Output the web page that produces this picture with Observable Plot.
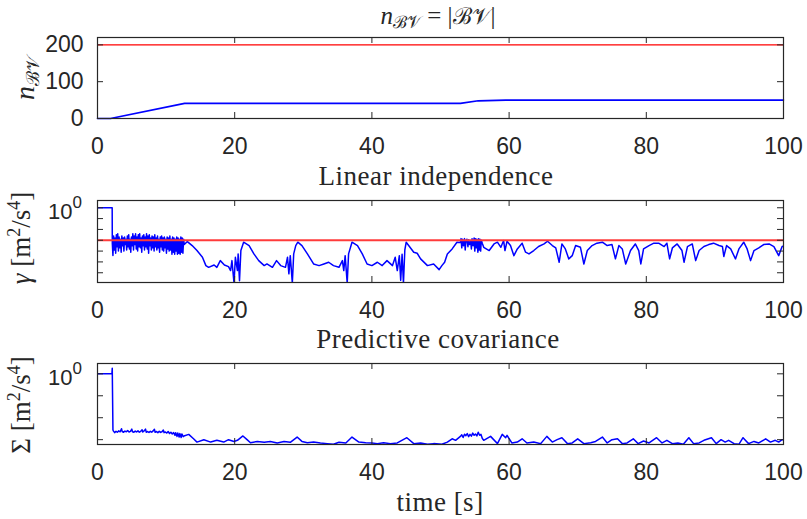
<!DOCTYPE html>
<html><head><meta charset="utf-8">
<script src="https://cdn.jsdelivr.net/npm/d3@7"></script>
<script src="https://cdn.jsdelivr.net/npm/@observablehq/plot@0.6"></script>
<style>
html,body{margin:0;padding:0;background:#fff;}
#chart{width:807px;height:519px;position:relative;overflow:hidden;background:#fff;}
#chart svg{display:block;}
</style></head><body><div id="chart"></div>
<script>
// ---------- data ----------
const xTicks = [0, 20, 40, 60, 80, 100];
const bvTicks = [0, 100, 200];
const gammaDecades = [0, -1, -2, -3, -4, -5, -6];
const sigmaDecades = [0, -1, -2, -3];
const bvCapacity = 200;
const gammaThresholdExp = -3;
const panelTitles = ["Linear independence", "Predictive covariance"];
const xLabel = "time [s]";

// dictionary size n_BV over time [t, n]
const bvSamples = [[0,0],[1.9,0],[12.7,41],[52.9,41],[55.5,48],[59.5,50],[100,50]];

// linear independence gamma: [t, log10(gamma)]
const gammaSamples = [
[0,0],[2.14,0],[2.16,-3.3],
[2.25,-4.4],[2.35,-2.6],[2.45,-3.9],[2.55,-2.8],[2.65,-4.2],[2.75,-2.5],[2.85,-3.6],[2.95,-2.4],[3.05,-4.0],[3.15,-2.7],
[3.25,-3.7],[3.35,-2.9],[3.45,-4.1],[3.55,-2.6],[3.65,-3.5],[3.75,-2.8],[3.85,-4.0],[3.95,-2.7],[4.05,-3.4],[4.15,-2.9],
[4.25,-3.9],[4.35,-2.6],[4.45,-3.6],[4.55,-2.5],[4.65,-3.8],[4.75,-2.9],[4.85,-4.1],[4.95,-2.7],[5.05,-3.5],[5.15,-2.4],
[5.25,-3.9],[5.35,-2.6],[5.45,-3.4],[5.55,-2.4],[5.65,-3.8],[5.75,-2.7],[5.85,-4.0],[5.95,-2.5],[6.05,-3.6],[6.15,-2.4],
[6.25,-3.7],[6.35,-2.8],[6.45,-4.1],[6.55,-2.6],[6.65,-3.5],[6.75,-2.5],[6.85,-3.9],[6.95,-2.7],[7.05,-3.6],[7.15,-2.4],
[7.25,-3.8],[7.35,-2.6],[7.45,-4.2],[7.55,-2.5],[7.65,-3.5],[7.75,-2.8],[7.85,-3.9],[7.95,-2.6],[8.05,-3.7],[8.15,-2.7],
[8.25,-4.0],[8.35,-2.5],[8.45,-3.6],[8.55,-2.8],[8.65,-3.9],[8.75,-2.6],[8.85,-3.7],[8.95,-2.9],[9.05,-4.1],[9.15,-2.7],
[9.25,-3.6],[9.35,-2.6],[9.45,-3.9],[9.55,-2.8],[9.65,-4.0],[9.75,-2.7],[9.85,-3.7],[9.95,-2.9],[10.05,-4.2],[10.15,-2.7],
[10.25,-3.8],[10.35,-2.8],[10.45,-4.0],[10.55,-2.6],[10.65,-3.9],[10.75,-2.9],[10.85,-4.3],[10.95,-2.7],[11.05,-4.1],[11.15,-2.8],
[11.25,-4.3],[11.35,-2.9],[11.45,-4.0],[11.55,-2.7],[11.65,-4.3],[11.75,-2.8],[11.85,-4.2],[11.95,-2.9],[12.05,-4.3],[12.15,-2.7],
[12.25,-4.1],[12.35,-2.8],[12.45,-4.2],[12.55,-2.9],[12.65,-3.4],
[13.1,-3.12],[13.8,-3.49],[14.5,-3.95],[15.3,-4.57],[15.8,-5.34],[16.2,-5.5],[17.0,-5.28],[17.4,-5.5],[17.9,-4.88],[18.5,-5.28],
[19.1,-5.43],[19.4,-5.8],[19.6,-4.88],[19.9,-6.95],[20.1,-4.57],[20.4,-5.8],[20.5,-4.26],[20.7,-6.73],[20.9,-3.95],[21.3,-3.18],
[22.1,-3.49],[22.8,-4.26],[23.5,-4.88],[24.3,-5.34],[24.7,-5.19],[25.5,-5.5],[26.1,-4.88],[26.7,-5.34],[27.4,-5.5],[27.7,-4.57],
[27.9,-6.1],[28.1,-4.42],[28.4,-6.95],[28.6,-4.26],[28.9,-3.49],[29.2,-3.18],[29.8,-3.49],[30.6,-4.26],[31.5,-5.19],[32.3,-5.34],
[33.0,-5.19],[33.7,-5.03],[34.4,-5.34],[35.2,-5.5],[35.7,-4.88],[35.9,-5.8],[36.1,-4.42],[36.4,-6.95],[36.6,-4.26],[37.1,-3.18],
[37.9,-3.49],[38.6,-4.26],[39.3,-5.19],[40.0,-5.34],[40.8,-5.03],[41.5,-5.34],[42.2,-4.88],[43.0,-5.34],[43.4,-4.57],[43.7,-5.8],
[44.0,-4.42],[44.2,-6.7],[44.4,-4.3],[44.6,-6.95],[44.8,-3.9],[45.0,-3.18],
[46.1,-4.11],[46.6,-4.2],[47.1,-4.72],[48.1,-5.34],[49.0,-5.19],[49.8,-5.71],[50.2,-5.34],[50.6,-5.03],[51.0,-4.26],[51.7,-3.8],[52.4,-3.18],
[52.9,-3.2],[53.0,-2.85],[53.1,-3.7],[53.2,-2.9],[53.35,-3.5],[53.5,-2.85],[53.6,-3.9],[53.7,-3.1],[53.85,-2.9],[54.0,-3.6],
[54.1,-2.95],[54.25,-3.4],[54.4,-3.1],[54.5,-3.8],[54.6,-2.85],[54.75,-3.5],[54.9,-2.8],[55.0,-4.0],[55.1,-2.85],[55.2,-3.7],
[55.3,-2.9],[55.45,-4.1],[55.55,-2.85],[55.65,-3.9],[55.75,-2.9],[55.85,-4.0],[55.95,-3.0],[56.1,-3.3],
[56.3,-3.65],[57.1,-3.95],[57.8,-3.34],[58.3,-3.18],[58.8,-3.65],[59.2,-3.03],[59.4,-3.95],[59.7,-3.09],[60.2,-3.49],[60.7,-4.42],
[61.2,-3.8],[61.9,-3.27],[62.4,-4.1],[62.9,-4.26],[63.6,-3.95],[64.3,-3.58],[65.1,-3.34],[65.6,-3.09],[66.3,-3.49],[66.8,-3.71],
[67.3,-5.03],[67.7,-3.34],[68.2,-3.8],[68.7,-4.72],[69.2,-4.42],[69.7,-3.49],[70.4,-3.65],[70.9,-5.19],[71.4,-3.95],[72.1,-3.49],
[72.8,-3.27],[73.6,-3.18],[74.3,-3.49],[75.0,-3.4],[75.5,-4.72],[76.0,-3.49],[76.5,-3.8],[77.0,-5.19],[77.7,-3.95],[78.4,-3.34],
[78.9,-3.95],[79.2,-5.19],[79.6,-3.8],[80.4,-3.49],[81.1,-3.27],[81.8,-3.27],[82.6,-3.58],[83.0,-3.27],[83.4,-4.72],[83.8,-3.71],
[84.5,-3.34],[85.2,-3.95],[85.5,-5.03],[86.0,-3.58],[86.7,-3.34],[87.2,-4.88],[87.7,-3.95],[88.4,-3.58],[89.1,-3.4],[89.8,-3.27],
[90.6,-3.49],[91.1,-3.58],[91.3,-4.5],[91.7,-3.49],[92.3,-3.8],[93.0,-4.72],[93.5,-3.8],[94.2,-3.18],[94.7,-3.8],[95.2,-4.88],
[95.7,-3.95],[96.4,-3.71],[97.1,-3.4],[97.9,-3.34],[98.6,-3.58],[99.3,-4.42],[99.8,-3.58],[100,-3.55]
];

// predictive covariance Sigma: [t, log10(Sigma)]
const sigmaSamples = [
[0,0],[2.1,0],[2.15,0.25],[2.25,-2.55],
[2.3,-2.6],[2.5,-2.68],[2.7,-2.62],[2.9,-2.66],[3.1,-2.6],[3.3,-2.64],[3.5,-2.5],[3.6,-2.63],[3.8,-2.66],[4.0,-2.61],
[4.2,-2.64],[4.4,-2.58],[4.6,-2.65],[4.8,-2.62],[5.0,-2.52],[5.1,-2.64],[5.3,-2.66],[5.5,-2.61],[5.7,-2.65],[5.9,-2.6],
[6.1,-2.66],[6.3,-2.62],[6.5,-2.55],[6.6,-2.65],[6.8,-2.6],[7.0,-2.52],[7.1,-2.66],[7.3,-2.63],[7.5,-2.67],[7.7,-2.62],
[7.9,-2.66],[8.1,-2.6],[8.3,-2.53],[8.4,-2.66],[8.6,-2.63],[8.8,-2.68],[9.0,-2.62],[9.2,-2.67],[9.4,-2.64],[9.6,-2.56],
[9.7,-2.68],[9.9,-2.65],[10.1,-2.7],[10.3,-2.63],[10.5,-2.72],[10.7,-2.66],[10.9,-2.74],[11.1,-2.68],[11.3,-2.8],[11.4,-2.68],
[11.6,-2.85],[11.7,-2.7],[11.9,-2.88],[12.0,-2.72],[12.2,-2.9],[12.3,-2.74],[12.5,-2.86],[12.7,-2.82],
[13.3,-2.76],[14.0,-2.96],[14.5,-3.11],[15.5,-3.0],[16.5,-3.11],[17.4,-3.03],[18.4,-3.11],[19.1,-3.0],[19.9,-3.08],[20.4,-3.03],
[21.2,-2.83],[21.8,-3.0],[22.3,-3.14],[23.3,-3.08],[24.3,-3.12],[25.2,-3.08],[26.2,-3.15],[27.2,-3.08],[28.1,-3.12],[29.1,-2.88],
[29.8,-3.08],[30.6,-3.14],[31.5,-3.11],[32.5,-3.15],[33.5,-3.18],[34.4,-3.21],[35.2,-3.12],[36.2,-3.15],[37.1,-2.88],[38.1,-3.11],
[39.1,-3.14],[40.0,-3.15],[40.8,-3.18],[41.7,-3.14],[42.7,-3.18],[43.7,-3.15],[45.1,-2.91],[46.1,-3.18],[47.1,-3.15],[48.1,-3.21],
[49.0,-3.18],[50.2,-3.21],[51.0,-3.11],[51.7,-2.96],[52.2,-3.03],
[52.9,-2.85],[53.1,-2.78],[53.3,-2.9],[53.5,-2.75],[53.7,-2.82],[53.9,-2.72],[54.1,-2.86],[54.3,-2.76],[54.5,-2.84],[54.7,-2.7],
[54.9,-2.8],[55.1,-2.74],[55.3,-2.83],[55.5,-2.66],[55.7,-2.8],[55.9,-2.76],[56.1,-2.95],
[56.3,-3.03],[57.3,-2.85],[58.3,-3.18],[59.0,-2.76],[59.5,-2.91],[59.7,-2.8],[60.4,-3.15],[61.2,-3.11],[61.9,-2.96],[62.6,-3.15],
[63.6,-3.11],[64.6,-3.18],[65.5,-2.85],[66.3,-3.11],[67.0,-3.0],[67.7,-2.91],[68.5,-3.18],[69.2,-3.15],[70.0,-2.96],[70.9,-3.18],
[71.9,-3.14],[72.6,-3.08],[73.6,-2.88],[74.3,-3.15],[75.0,-3.0],[75.8,-2.96],[76.5,-3.18],[77.2,-3.15],[78.1,-2.96],[78.8,-3.18],
[79.6,-3.06],[80.4,-3.15],[81.5,-2.91],[82.3,-3.15],[83.0,-3.03],[83.8,-3.18],[84.6,-3.15],[85.4,-3.21],[86.2,-2.91],[86.9,-3.18],
[87.7,-3.15],[88.4,-3.03],[89.5,-2.91],[90.2,-3.18],[90.9,-3.0],[91.5,-3.11],[92.0,-3.03],[92.8,-3.18],[93.5,-3.21],[94.1,-2.91],
[94.9,-3.18],[95.7,-3.08],[96.4,-3.15],[97.4,-2.96],[98.1,-3.11],[98.8,-3.03],[99.3,-3.11],[99.8,-3.0],[100,-3.0]
];

// ---------- drawing ----------
const TEXT = "#262626";
const SANS = "'Liberation Sans', Arial, Helvetica, sans-serif";
const SERIF = "'Liberation Serif', 'Times New Roman', serif";
const W = 807, ML = 97, MR = 24, TL = 6;
const innerW = W - ML - MR;

const bvData = bvSamples.map(([t, n]) => ({t, n}));
const gammaData = gammaSamples.map(([t, e]) => ({t, v: Math.pow(10, e)}));
const sigmaData = sigmaSamples.map(([t, e]) => ({t, v: Math.pow(10, e)}));

function panel({height, marginTop, marginBottom, y, yTicks, marks, yAxis}) {
  const innerH = height - marginTop - marginBottom;
  return Plot.plot({
    width: W, height, marginLeft: ML, marginRight: MR, marginTop, marginBottom,
    style: {fontFamily: SANS, fontSize: "23px", color: TEXT, background: "#fff", overflow: "visible"},
    x: {domain: [0, 100], label: null},
    y: {...y, label: null, axis: yAxis ? undefined : null},
    marks: [
      ...marks,
      Plot.ruleX(xTicks, {insetTop: innerH - TL, stroke: TEXT, strokeWidth: 1}),
      Plot.ruleX(xTicks, {insetBottom: innerH - TL, stroke: TEXT, strokeWidth: 1}),
      Plot.ruleY(yTicks, {insetRight: innerW - TL, stroke: TEXT, strokeWidth: 1}),
      Plot.ruleY(yTicks, {insetLeft: innerW - TL, stroke: TEXT, strokeWidth: 1}),
      Plot.frame({stroke: TEXT, strokeWidth: 1.2}),
      Plot.axisX(xTicks, {tickSize: 0, tickPadding: 19, label: null, fontSize: 23, fill: TEXT}),
      ...(yAxis ? [yAxis] : [])
    ]
  });
}

function addText(svg, {x, y, anchor = "middle", rotate = false, size = 27, spacing = 0, parts}) {
  const t = d3.select(svg).append("text")
    .attr("text-anchor", anchor)
    .attr("font-family", SERIF)
    .attr("font-size", size)
    .attr("letter-spacing", spacing)
    .attr("fill", TEXT)
    .attr("transform", `translate(${x},${y})` + (rotate ? " rotate(-90)" : ""));
  for (const p of parts) {
    const s = t.append("tspan").text(p.text);
    if (p.italic) s.attr("font-style", "italic");
    if (p.size) s.attr("font-size", p.size);
    if (p.dy) s.attr("dy", p.dy);
  }
  return t;
}

function addPowerLabel(svg, chart, exp) {
  const y = chart.scale("y").apply(Math.pow(10, exp));
  const t = d3.select(svg).append("text")
    .attr("text-anchor", "end").attr("font-family", SANS).attr("fill", TEXT)
    .attr("font-size", 22)
    .attr("transform", `translate(${ML - 15},${y + 12})`);
  t.append("tspan").text("10");
  t.append("tspan").attr("font-size", 17).attr("dy", -11).text(String(exp));
}

const root = document.getElementById("chart");

// Panel 1: n_BV
const c1 = panel({
  height: 163, marginTop: 37, marginBottom: 45,
  y: {domain: [0, 220]}, yTicks: bvTicks,
  marks: [
    Plot.line(bvData, {x: "t", y: "n", stroke: "#0000ff", strokeWidth: 1.6}),
    Plot.ruleY([bvCapacity], {stroke: "#ff0000", strokeWidth: 1.3})
  ],
  yAxis: Plot.axisY(bvTicks, {tickSize: 0, tickPadding: 14, label: null, fontSize: 23, fill: TEXT})
});
root.appendChild(c1);
const BV = "\u212C\u{1D4B1}";
addText(c1, {x: 438, y: 24, size: 25, parts: [
  {text: "n", italic: true}, {text: BV, size: 17, dy: 4}, {text: " = |", dy: -4}, {text: BV, size: 23}, {text: "|"}
]});
addText(c1, {x: 34, y: 78, rotate: true, size: 28, parts: [
  {text: "n", italic: true}, {text: BV, size: 18, dy: 5}
]});

// Panel 2: gamma
const c2 = panel({
  height: 164, marginTop: 37, marginBottom: 45,
  y: {type: "log", domain: [Math.pow(10, -6.9), Math.pow(10, 0.67)]},
  yTicks: gammaDecades.map(k => Math.pow(10, k)),
  marks: [
    Plot.line(gammaData, {x: "t", y: "v", stroke: "#0000ff", strokeWidth: 1.5, clip: true}),
    Plot.ruleY([Math.pow(10, gammaThresholdExp)], {stroke: "#ff3b3b", strokeWidth: 2})
  ]
});
root.appendChild(c2);
addPowerLabel(c2, c2, 0);
addText(c2, {x: 436, y: 22, spacing: 0.5, parts: [{text: panelTitles[0]}]});
addText(c2, {x: 30, y: 75, rotate: true, parts: [
  {text: "\u03B3", italic: true}, {text: " [m"}, {text: "2", size: 18, dy: -10}, {text: "/s", dy: 10},
  {text: "4", size: 18, dy: -10}, {text: "]", dy: 10}
]});

// Panel 3: Sigma
const c3 = panel({
  height: 192, marginTop: 36, marginBottom: 75,
  y: {type: "log", domain: [Math.pow(10, -3.22), Math.pow(10, 0.47)]},
  yTicks: sigmaDecades.map(k => Math.pow(10, k)),
  marks: [
    Plot.line(sigmaData, {x: "t", y: "v", stroke: "#0000ff", strokeWidth: 1.5, clip: true})
  ]
});
root.appendChild(c3);
addPowerLabel(c3, c3, 0);
addText(c3, {x: 438, y: 21, spacing: 0.5, parts: [{text: panelTitles[1]}]});
addText(c3, {x: 440, y: 184, spacing: 0.5, parts: [{text: xLabel}]});
addText(c3, {x: 30, y: 78, rotate: true, parts: [
  {text: "\u03A3"}, {text: " [m"}, {text: "2", size: 18, dy: -10}, {text: "/s", dy: 10},
  {text: "4", size: 18, dy: -10}, {text: "]", dy: 10}
]});
</script></body></html>
